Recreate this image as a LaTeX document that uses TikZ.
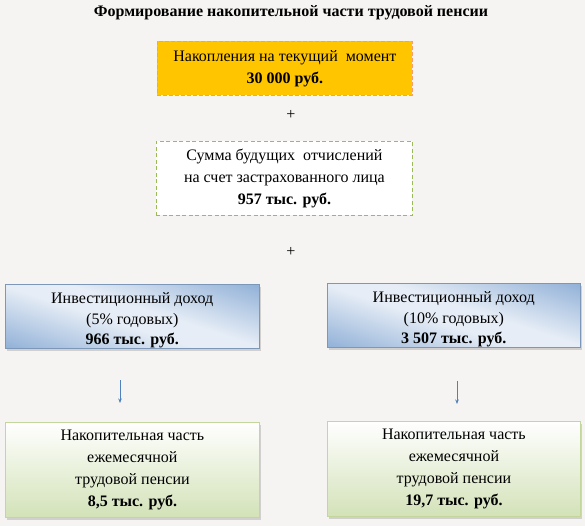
\documentclass[tikz,border=0pt]{standalone}
\usepackage{fontspec}
\setmainfont{Liberation Serif}
\usetikzlibrary{shadows,arrows.meta,calc}
\definecolor{bgc}{HTML}{F5F4F2}
\definecolor{orfill}{HTML}{FFC600}
\definecolor{ordraw}{HTML}{F79E6E}
\definecolor{grdraw}{HTML}{9BBB59}
\definecolor{bldark}{HTML}{93B2D8}
\definecolor{bllight}{HTML}{E6EDF6}
\definecolor{gnbot}{HTML}{D3E2B8}
\definecolor{gnborder}{HTML}{C3D69B}
\definecolor{arrowc}{HTML}{4F81BD}
\pgfdeclareverticalshading{blshade}{100bp}{color(0bp)=(bldark); color(37bp)=(bldark); color(48bp)=(bllight); color(52bp)=(bllight); color(63bp)=(bldark); color(100bp)=(bldark)}
\tikzset{
  txt/.style={font=\fontsize{16}{21.8}\selectfont, align=center},
  boxbase/.style={txt, anchor=north west, inner sep=0pt},
  orbox/.style={boxbase, fill=orfill, draw=ordraw, dashed, dash pattern=on 4pt off 2pt, line width=0.8pt},
  gbox/.style={boxbase, fill=white, draw=grdraw, dashed, dash pattern=on 4pt off 2.5pt, line width=0.8pt},
  bbox/.style={boxbase, font=\fontsize{16}{20.8}\selectfont, draw=bldark!85!black, line width=0.5pt, fill=bllight,
     path picture={\shade[shading=blshade, shading angle=-18]
        ($(path picture bounding box.center)+(-131,-131)$) rectangle ++(262,262);},
     drop shadow={shadow xshift=2pt, shadow yshift=-2.5pt, opacity=0.45, fill=gray!70}},
  pbox/.style={boxbase, draw=gnborder, line width=0.8pt,
     top color=white, bottom color=gnbot,
     drop shadow={shadow xshift=2pt, shadow yshift=-2.5pt, opacity=0.45, fill=gray!70}},
  plus/.style={font=\fontsize{16}{18}\selectfont},
  arr/.style={draw=arrowc, line width=0.6pt, -{Stealth[length=4.5pt,width=3.5pt]}}
}
\newcommand{\topstrut}{\rule{0pt}{19pt}}
\begin{document}
\begin{tikzpicture}[x=1pt,y=-1pt]
\useasboundingbox[fill=bgc] (0,0) rectangle (585,526);
\node[font=\fontsize{16}{18}\selectfont\bfseries] (title) at (291,13) {Формирование накопительной части трудовой пенсии};
\node[orbox, minimum width=255pt, minimum height=54pt] (nak) at (157,41)
  {Накопления на текущий\ \ момент\\\textbf{30 000 руб.}};
\node[plus] (p1) at (291,115) {+};
\node[gbox, minimum width=256pt, minimum height=74pt] (sum) at (156,141)
  {Сумма будущих\ \ отчислений\\на счет застрахованного лица\\\textbf{957 тыс. руб.}};
\node[plus] (p2) at (291,252) {+};
\node[bbox, minimum width=254pt, minimum height=63pt] (inv1) at (5,284)
  {\topstrut Инвестиционный доход\\(5\% годовых)\\\textbf{966 тыс. руб.}};
\node[bbox, minimum width=253pt, minimum height=63pt] (inv2) at (327,283)
  {\topstrut Инвестиционный доход\\(10\% годовых)\\\textbf{3 507 тыс. руб.}};
\node[pbox, minimum width=254pt, minimum height=95pt] (pen1) at (5,422)
  {Накопительная часть\\ежемесячной\\трудовой пенсии\\\textbf{8,5 тыс. руб.}};
\node[pbox, minimum width=253pt, minimum height=95pt] (pen2) at (327,421)
  {Накопительная часть\\ежемесячной\\трудовой пенсии\\\textbf{19,7 тыс. руб.}};
\coordinate (a1s) at (120,380);
\coordinate (a1e) at (120,403);
\coordinate (a2s) at (457,381);
\coordinate (a2e) at (457,404);
\draw[arr] (a1s) -- (a1e);
\draw[arr] (a2s) -- (a2e);
\end{tikzpicture}
\end{document}
